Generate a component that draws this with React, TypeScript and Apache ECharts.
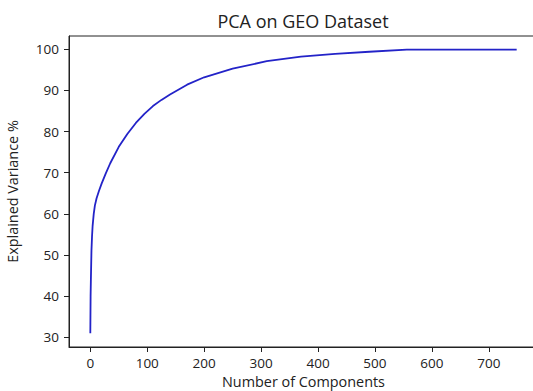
import React, { useEffect, useRef } from "react";
import * as echarts from "echarts";

const components = [0, 0.5, 1, 2, 3, 4, 6, 8, 11, 15, 20, 27, 35, 50, 65, 80, 95, 110, 125, 140, 170, 200, 250, 310, 370, 430, 490, 556, 650, 749];
const variance = [31.0, 40.0, 44.0, 51.0, 54.5, 57.0, 60.0, 62.0, 63.8, 65.5, 67.4, 69.8, 72.3, 76.3, 79.4, 82.1, 84.3, 86.2, 87.7, 89.0, 91.4, 93.2, 95.3, 97.1, 98.2, 98.9, 99.4, 99.9, 99.9, 99.9];
const xTicks = [0, 100, 200, 300, 400, 500, 600, 700];
const yTicks = [30, 40, 50, 60, 70, 80, 90, 100];

const FONT = "Open Sans";

export default function App() {
  const ref = useRef<HTMLDivElement>(null);
  useEffect(() => {
    if (!ref.current) return;
    const chart = echarts.init(ref.current, null, { renderer: "svg" });
    const data = components.map((c, i) => [c, variance[i]]);
    chart.setOption({
      animation: false,
      backgroundColor: "#ffffff",
      grid: {
        left: 69,
        top: 36,
        bottom: 44,
        right: -5,
        show: true,
        borderColor: "#222",
        borderWidth: 1,
        containLabel: false,
        outerBoundsMode: "none",
      },
      graphic: [
        {
          type: "text",
          x: 303,
          y: 21,
          style: {
            text: "PCA on GEO Dataset",
            align: "center",
            verticalAlign: "middle",
            font: `18px "${FONT}"`,
            fill: "#222",
          },
        },
      ],
      xAxis: {
        type: "value",
        min: -37.45,
        max: 786.45,
        name: "Number of Components",
        nameLocation: "middle",
        nameGap: 27,
        nameTextStyle: { fontFamily: FONT, fontSize: 14.4, color: "#222" },
        axisLine: { show: true, onZero: false, lineStyle: { color: "#222", width: 1 } },
        axisTick: { show: true, length: 5, lineStyle: { color: "#222" }, customValues: xTicks },
        axisLabel: { show: true, fontFamily: FONT, fontSize: 13.5, color: "#222", margin: 9, customValues: xTicks },
        splitLine: { show: false },
      },
      yAxis: {
        type: "value",
        min: 27.64,
        max: 103.23,
        name: "Explained Variance %",
        nameLocation: "middle",
        nameGap: 50,
        nameTextStyle: { fontFamily: FONT, fontSize: 14.4, color: "#222" },
        axisLine: { show: true, onZero: false, lineStyle: { color: "#222", width: 1 } },
        axisTick: { show: true, length: 5, lineStyle: { color: "#222" }, customValues: yTicks },
        axisLabel: { show: true, fontFamily: FONT, fontSize: 13.5, color: "#222", margin: 10, customValues: yTicks },
        splitLine: { show: false },
      },
      series: [
        {
          type: "line",
          data,
          showSymbol: false,
          symbol: "none",
          smooth: false,
          lineStyle: { color: "#2323c8", width: 1.8 },
        },
      ],
    });
    return () => chart.dispose();
  }, []);
  return (
    <div
      ref={ref}
      style={{ position: "fixed", left: 0, top: 0, width: 533, height: 391, background: "#fff" }}
    />
  );
}
